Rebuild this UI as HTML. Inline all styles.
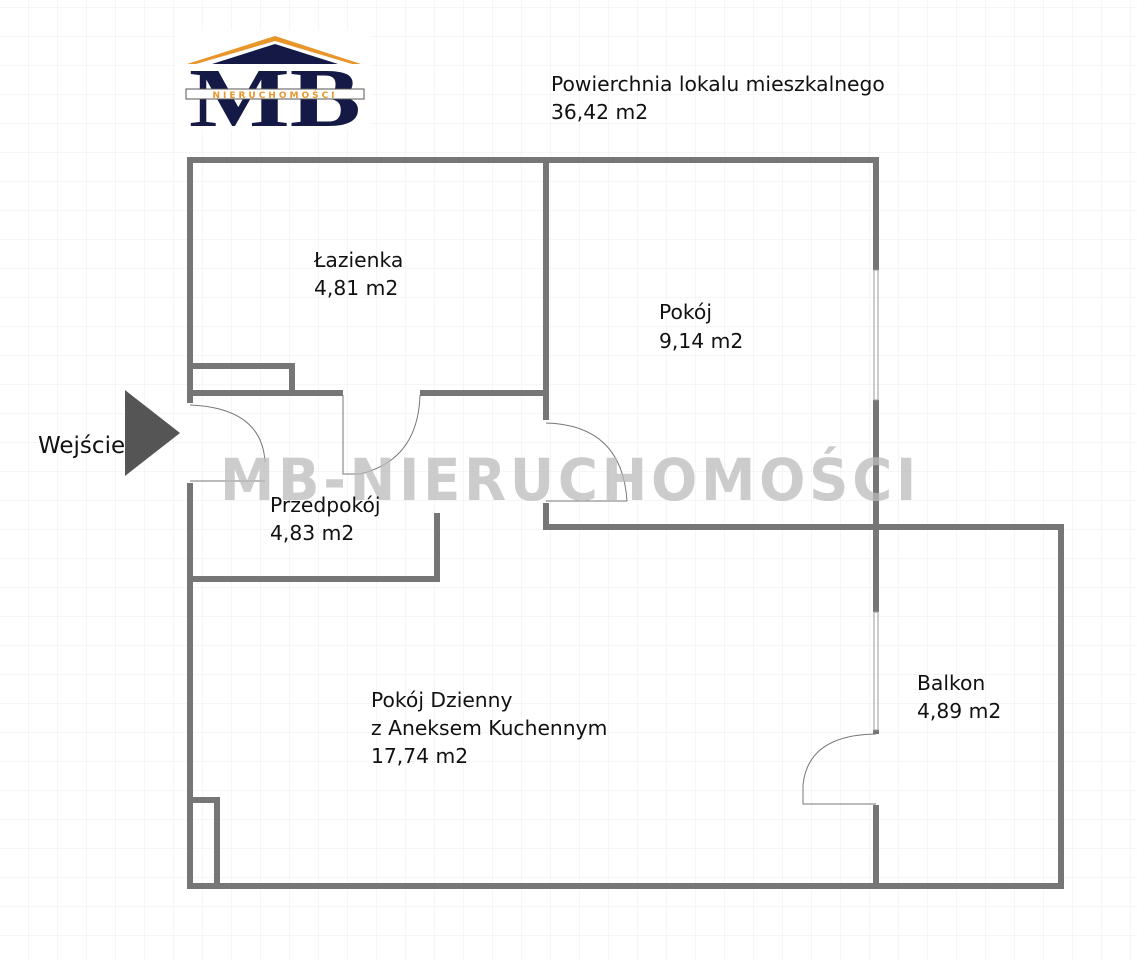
<!DOCTYPE html>
<html><head><meta charset="utf-8"><style>
body{margin:0;background:#fff;}
svg text{font-family:"DejaVu Sans","Liberation Sans",sans-serif;}
</style></head><body>
<svg width="1137" height="960" viewBox="0 0 1137 960" xmlns="http://www.w3.org/2000/svg">
<defs><pattern id="g" width="29" height="29" patternUnits="userSpaceOnUse" x="0" y="8"><path d="M29 0V29M0 29H29" stroke="#ececec" stroke-width="1" fill="none"/></pattern></defs>
<rect width="1137" height="960" fill="url(#g)"/>
<rect x="175" y="30" width="195" height="100" fill="#fff"/>
<polygon points="187,64 275,36 361,64 352,64 275,41 196,64" fill="#e8962a"/>
<polygon points="212,64 275,44 338,64" fill="#141a45"/>
<text x="275" y="126" text-anchor="middle" font-weight="bold" font-size="84" fill="#141a45" style="font-family:'Liberation Serif',serif" textLength="172" lengthAdjust="spacingAndGlyphs">MB</text>
<rect x="186" y="89" width="178" height="10" fill="#fff" stroke="#555" stroke-width="1"/>
<text x="275" y="98" text-anchor="middle" font-size="9" font-weight="bold" fill="#e8962a" letter-spacing="3">NIERUCHOMOŚCI</text>
<g font-size="20.3" fill="#111">
<text x="551" y="91">Powierchnia lokalu mieszkalnego</text>
<text x="551" y="119">36,42 m2</text>
</g>
<g fill="#767676">
<rect x="187" y="157" width="692" height="6"/>
<rect x="187" y="157" width="6" height="246"/>
<rect x="187" y="483" width="6" height="406"/>
<rect x="187" y="883" width="877" height="6"/>
<rect x="873" y="157" width="6" height="113"/>
<rect x="873" y="400" width="6" height="212"/>
<rect x="873" y="805" width="6" height="84"/>
<rect x="873" y="730" width="6" height="4"/>
<rect x="543" y="524" width="521" height="6"/>
<rect x="1058" y="524" width="6" height="365"/>
<rect x="543" y="157" width="6" height="263"/>
<rect x="543" y="503" width="6" height="27"/>
<rect x="187" y="390" width="156" height="6"/>
<rect x="420" y="390" width="129" height="6"/>
<rect x="187" y="363" width="108" height="6"/>
<rect x="289" y="363" width="6" height="33"/>
<rect x="187" y="576" width="253" height="6"/>
<rect x="434" y="513" width="6" height="69"/>
<rect x="187" y="797" width="33" height="6"/>
<rect x="214" y="797" width="6" height="92"/>
</g>
<g fill="none" stroke="#999" stroke-width="1">
<rect x="874" y="270" width="4" height="130"/>
<rect x="874" y="612" width="4" height="118"/>
</g>
<g fill="none" stroke="#777" stroke-width="1">
<path d="M190 481H265M190 405Q262 408 265 462"/>
<path d="M343 395V474H360Q418 460 420 395"/>
<path d="M546 501H627M546 423Q622 425 627 501"/>
<path d="M876 804H803V785Q808 735 876 734"/>
</g>
<text x="570" y="500" text-anchor="middle" font-size="58" font-weight="bold" fill="#bbb" fill-opacity="0.75" letter-spacing="4" textLength="700" lengthAdjust="spacingAndGlyphs">MB-NIERUCHOMOŚCI</text>
<polygon points="125,390 180,433 125,476" fill="#555"/>
<text x="38" y="453" font-size="23" fill="#111">Wejście</text>
<g font-size="20.3" fill="#111">
<text x="314" y="267">Łazienka</text><text x="314" y="295">4,81 m2</text>
<text x="659" y="319">Pokój</text><text x="659" y="348">9,14 m2</text>
<text x="270" y="512">Przedpokój</text><text x="270" y="540">4,83 m2</text>
<text x="371" y="707">Pokój Dzienny</text><text x="371" y="735">z Aneksem Kuchennym</text><text x="371" y="763">17,74 m2</text>
<text x="917" y="690">Balkon</text><text x="917" y="718">4,89 m2</text>
</g>
</svg>
</body></html>
